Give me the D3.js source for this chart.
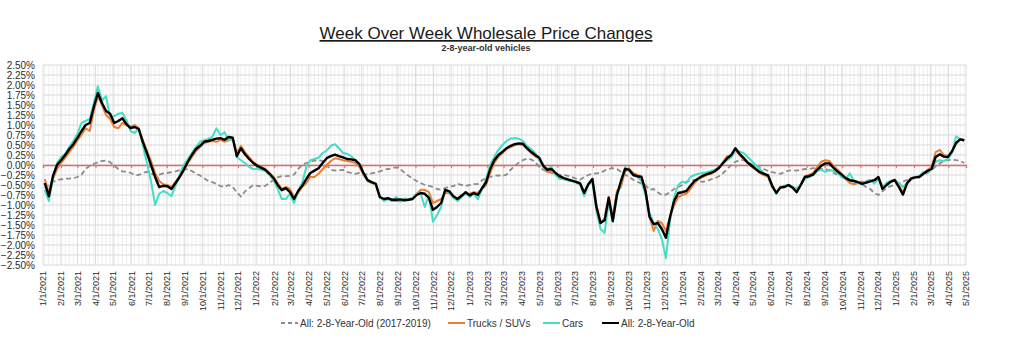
<!DOCTYPE html>
<html>
<head>
<meta charset="utf-8">
<script src="https://cdn.jsdelivr.net/npm/d3@7"></script>
<style>
  body { margin: 0; background: #fff; }
  svg text { font-family: "Liberation Sans", Arial, sans-serif; }
</style>
</head>
<body>
<div id="chart"></div>
<script>
const width = 1024;
const height = 343;

// weekly readings, first week starting 2021-01-04
const firstWeek = new Date(2021, 0, 4);

const allSeries = [
  -0.45,-0.78,-0.28,0.0,0.12,0.25,0.4,0.52,0.68,0.85,1.0,1.05,1.45,1.8,1.55,1.35,1.28,1.05,1.1,1.17,
  1.02,0.92,0.95,0.9,0.58,0.3,0.0,-0.3,-0.55,-0.52,-0.53,-0.6,-0.45,-0.3,-0.12,0.08,0.25,0.4,0.48,0.58,
  0.6,0.63,0.66,0.67,0.63,0.7,0.68,0.22,0.42,0.27,0.15,0.05,-0.02,-0.07,-0.12,-0.22,-0.33,-0.5,-0.63,-0.58,
  -0.68,-0.85,-0.65,-0.52,-0.35,-0.2,-0.14,-0.08,0.05,0.17,0.22,0.26,0.22,0.19,0.15,0.14,0.12,0.02,-0.2,-0.38,
  -0.43,-0.47,-0.8,-0.85,-0.83,-0.87,-0.87,-0.86,-0.88,-0.87,-0.85,-0.75,-0.7,-0.72,-0.82,-1.12,-1.05,-0.95,-0.62,-0.66,
  -0.78,-0.85,-0.77,-0.68,-0.76,-0.7,-0.75,-0.58,-0.43,-0.1,0.12,0.25,0.33,0.42,0.48,0.52,0.54,0.53,0.42,0.33,
  0.25,0.18,-0.02,-0.12,-0.1,-0.2,-0.28,-0.33,-0.36,-0.39,-0.42,-0.46,-0.7,-0.48,-0.35,-1.05,-1.45,-1.38,-0.82,-1.4,
  -0.75,-0.4,-0.1,-0.12,-0.25,-0.28,-0.3,-0.65,-1.3,-1.48,-1.45,-1.6,-1.82,-1.3,-0.9,-0.7,-0.68,-0.65,-0.52,-0.4,
  -0.33,-0.27,-0.23,-0.2,-0.15,-0.07,0.05,0.17,0.25,0.42,0.28,0.18,0.06,-0.02,-0.1,-0.18,-0.22,-0.26,-0.52,-0.7,
  -0.56,-0.55,-0.5,-0.57,-0.68,-0.5,-0.3,-0.28,-0.24,-0.12,-0.02,0.04,0.04,-0.07,-0.16,-0.24,-0.33,-0.38,-0.4,-0.43,
  -0.47,-0.44,-0.41,-0.38,-0.3,-0.6,-0.5,-0.42,-0.38,-0.55,-0.74,-0.46,-0.34,-0.31,-0.3,-0.22,-0.15,-0.1,0.2,0.27,
  0.21,0.2,0.34,0.55,0.64,0.62
];

const carsSeries = [
  -0.62,-0.9,-0.35,0.05,0.2,0.28,0.45,0.6,0.78,1.05,1.1,1.15,1.55,1.97,1.62,1.72,1.2,1.22,1.28,1.3,
  1.12,0.85,0.8,0.92,0.5,0.05,-0.4,-1.0,-0.72,-0.65,-0.7,-0.78,-0.52,-0.25,0.0,0.15,0.3,0.45,0.58,0.62,
  0.65,0.7,0.92,0.75,0.82,0.62,0.66,0.2,0.12,0.05,-0.05,-0.1,-0.1,-0.12,-0.15,-0.25,-0.38,-0.6,-0.85,-0.85,
  -0.72,-0.95,-0.65,-0.45,-0.05,0.12,0.15,0.18,0.3,0.36,0.48,0.52,0.42,0.3,0.28,0.22,0.12,0.0,-0.2,-0.4,
  -0.42,-0.5,-0.8,-0.9,-0.85,-0.9,-0.8,-0.92,-0.84,-0.86,-0.82,-0.72,-0.72,-1.05,-0.75,-1.42,-1.25,-1.05,-0.62,-0.7,
  -0.82,-0.9,-0.8,-0.7,-0.8,-0.72,-0.86,-0.6,-0.35,0.0,0.2,0.38,0.5,0.6,0.66,0.67,0.66,0.6,0.48,0.4,
  0.3,0.12,-0.05,-0.1,-0.05,-0.25,-0.35,-0.35,-0.38,-0.4,-0.44,-0.5,-0.78,-0.5,-0.4,-1.15,-1.6,-1.7,-0.9,-1.42,
  -0.8,-0.45,-0.05,-0.15,-0.25,-0.3,-0.4,-0.75,-1.2,-1.45,-1.6,-1.85,-2.33,-1.4,-0.8,-0.5,-0.42,-0.45,-0.3,-0.25,
  -0.22,-0.2,-0.18,-0.15,-0.12,-0.05,0.05,0.12,0.2,0.35,0.33,0.3,0.2,0.1,0.0,-0.1,-0.2,-0.28,-0.5,-0.72,
  -0.55,-0.52,-0.5,-0.55,-0.58,-0.5,-0.35,-0.3,-0.25,-0.15,-0.12,-0.17,-0.12,-0.15,-0.2,-0.3,-0.35,-0.21,-0.4,-0.45,
  -0.48,-0.4,-0.37,-0.46,-0.35,-0.55,-0.45,-0.4,-0.38,-0.45,-0.55,-0.45,-0.35,-0.3,-0.28,-0.17,-0.2,-0.05,0.08,0.12,
  0.1,0.15,0.3,0.72,0.65,0.6
];

const trucksSeries = [
  -0.35,-0.7,-0.35,-0.1,0.05,0.18,0.32,0.45,0.62,0.75,0.92,0.85,1.35,1.72,1.5,1.25,1.15,0.95,0.92,1.05,
  1.0,0.95,1.0,0.92,0.62,0.35,0.1,-0.2,-0.4,-0.48,-0.5,-0.55,-0.42,-0.3,-0.15,0.05,0.2,0.35,0.45,0.55,
  0.58,0.6,0.58,0.63,0.58,0.62,0.65,0.3,0.48,0.32,0.2,0.08,0.0,-0.05,-0.1,-0.2,-0.3,-0.45,-0.6,-0.55,
  -0.6,-0.8,-0.7,-0.55,-0.45,-0.3,-0.3,-0.22,-0.1,0.0,0.1,0.17,0.15,0.12,0.1,0.08,0.05,-0.05,-0.25,-0.4,
  -0.45,-0.48,-0.82,-0.85,-0.85,-0.9,-0.9,-0.9,-0.88,-0.86,-0.85,-0.72,-0.62,-0.62,-0.68,-0.95,-0.9,-0.85,-0.7,-0.7,
  -0.8,-0.85,-0.75,-0.72,-0.72,-0.68,-0.7,-0.6,-0.5,-0.2,0.05,0.2,0.3,0.4,0.45,0.5,0.52,0.5,0.4,0.3,
  0.22,0.15,-0.05,-0.18,-0.15,-0.22,-0.3,-0.35,-0.38,-0.4,-0.42,-0.45,-0.68,-0.5,-0.35,-1.0,-1.42,-1.35,-0.8,-1.3,
  -0.65,-0.55,-0.15,-0.1,-0.2,-0.25,-0.28,-0.6,-1.3,-1.65,-1.4,-1.45,-1.65,-1.3,-1.0,-0.8,-0.75,-0.72,-0.6,-0.45,
  -0.35,-0.3,-0.25,-0.22,-0.17,-0.08,0.08,0.22,0.2,0.38,0.25,0.15,0.05,-0.05,-0.12,-0.2,-0.25,-0.3,-0.55,-0.68,
  -0.58,-0.55,-0.5,-0.55,-0.65,-0.48,-0.28,-0.25,-0.2,-0.05,0.08,0.12,0.1,-0.02,-0.12,-0.22,-0.35,-0.45,-0.48,-0.45,
  -0.42,-0.45,-0.4,-0.38,-0.32,-0.55,-0.48,-0.4,-0.36,-0.5,-0.7,-0.45,-0.33,-0.3,-0.28,-0.2,-0.12,-0.05,0.32,0.38,
  0.25,0.22,0.35,0.55,0.65,0.62
];

// same weeks, 2017-2019 average
const baselineSeries = [
  -0.58,-0.5,-0.42,-0.38,-0.36,-0.34,-0.34,-0.33,-0.3,-0.24,-0.1,-0.02,0.03,0.07,0.1,0.11,0.07,-0.02,-0.1,-0.16,
  -0.17,-0.2,-0.24,-0.25,-0.2,-0.17,-0.22,-0.25,-0.24,-0.21,-0.2,-0.18,-0.16,-0.13,-0.1,-0.11,-0.15,-0.22,-0.26,-0.33,
  -0.4,-0.43,-0.47,-0.53,-0.55,-0.5,-0.55,-0.68,-0.79,-0.66,-0.58,-0.5,-0.52,-0.54,-0.52,-0.45,-0.37,-0.31,-0.28,-0.28,
  -0.27,-0.24,-0.1,0.0,0.05,0.08,0.11,0.12,0.1,0.0,-0.12,-0.14,-0.13,-0.12,-0.17,-0.2,-0.22,-0.2,-0.24,-0.23,
  -0.21,-0.19,-0.16,-0.12,-0.1,-0.08,-0.06,-0.1,-0.19,-0.27,-0.34,-0.4,-0.45,-0.5,-0.52,-0.55,-0.6,-0.62,-0.58,-0.54,
  -0.53,-0.47,-0.5,-0.52,-0.5,-0.48,-0.47,-0.38,-0.33,-0.3,-0.27,-0.26,-0.27,-0.24,-0.12,-0.02,0.06,0.12,0.16,0.14,
  0.08,-0.05,-0.12,-0.17,-0.2,-0.23,-0.25,-0.25,-0.27,-0.3,-0.34,-0.37,-0.3,-0.25,-0.22,-0.21,-0.2,-0.14,-0.1,-0.08,
  -0.1,-0.17,-0.24,-0.3,-0.37,-0.42,-0.46,-0.5,-0.62,-0.6,-0.68,-0.75,-0.74,-0.68,-0.6,-0.55,-0.5,-0.42,-0.38,-0.38,
  -0.4,-0.42,-0.4,-0.36,-0.33,-0.28,-0.2,-0.1,0.0,0.08,0.12,0.12,0.08,0.02,-0.02,-0.06,-0.1,-0.15,-0.18,-0.2,
  -0.22,-0.18,-0.14,-0.13,-0.14,-0.12,-0.1,-0.1,-0.08,-0.08,-0.1,-0.1,-0.14,-0.2,-0.24,-0.3,-0.35,-0.38,-0.42,-0.45,
  -0.48,-0.55,-0.6,-0.7,-0.75,-0.66,-0.57,-0.53,-0.5,-0.47,-0.42,-0.37,-0.33,-0.29,-0.27,-0.25,-0.2,-0.12,-0.04,0.04,
  0.1,0.12,0.13,0.12,0.1,0.05
];

const yTicks = [2.5,2.25,2,1.75,1.5,1.25,1,0.75,0.5,0.25,0,-0.25,-0.5,-0.75,-1,-1.25,-1.5,-1.75,-2,-2.25,-2.5];

const seriesNames = ["All: 2-8-Year-Old (2017-2019)", "Trucks / SUVs", "Cars", "All: 2-8-Year-Old"];
const seriesColors = ["#8c8c8c", "#ed7d31", "#47dcc4", "#000000"];
const seriesWidths = [1.8, 2, 2, 2.4];

const margin = {top: 65, right: 58, bottom: 78, left: 43};

const svg = d3.select("#chart")
  .append("svg")
  .attr("width", width)
  .attr("height", height);

const x = d3.scaleTime()
  .domain([new Date(2021, 0, 1), new Date(2025, 4, 1)])
  .range([margin.left, width - margin.right]);

const y = d3.scaleLinear()
  .domain([-2.5, 2.5])
  .range([height - margin.bottom, margin.top]);

const weeks = allSeries.map((d, i) => d3.timeDay.offset(firstWeek, 7 * i));

// title
svg.append("text")
  .attr("x", 486)
  .attr("y", 39)
  .attr("text-anchor", "middle")
  .style("font-size", "17px")
  .style("text-decoration", "underline")
  .attr("fill", "#1a1a1a")
  .text("Week Over Week Wholesale Price Changes");

svg.append("text")
  .attr("x", 486)
  .attr("y", 51)
  .attr("text-anchor", "middle")
  .style("font-size", "9px")
  .style("font-weight", "bold")
  .attr("fill", "#333")
  .text("2-8-year-old vehicles");

// grid: weekly minor lines, monthly major lines, horizontal every 0.25%
const grid = svg.append("g");

grid.selectAll("line.minor")
  .data(d3.timeMonday.range(x.domain()[0], x.domain()[1]))
  .enter()
  .append("line")
  .attr("x1", d => x(d)).attr("x2", d => x(d))
  .attr("y1", y(2.5)).attr("y2", y(-2.5))
  .attr("stroke", "#efefef")
  .attr("stroke-width", 1);

grid.selectAll("line.major")
  .data(x.ticks(d3.timeMonth.every(1)))
  .enter()
  .append("line")
  .attr("x1", d => x(d)).attr("x2", d => x(d))
  .attr("y1", y(2.5)).attr("y2", y(-2.5))
  .attr("stroke", "#dcdcdc")
  .attr("stroke-width", 1);

grid.selectAll("line.h")
  .data(yTicks)
  .enter()
  .append("line")
  .attr("x1", x.range()[0]).attr("x2", x.range()[1])
  .attr("y1", d => y(d)).attr("y2", d => y(d))
  .attr("stroke", "#d9d9d9")
  .attr("stroke-width", 1);

// y axis labels
svg.append("g")
  .attr("transform", "translate(" + margin.left + ",0)")
  .call(d3.axisLeft(y).tickValues(yTicks).tickSize(0).tickPadding(8)
    .tickFormat(d => d3.format(".2f")(d) + "%"))
  .call(g => g.select(".domain").remove())
  .call(g => g.selectAll("text")
    .style("font-size", "10px")
    .attr("fill", "#2b2b2b"));

// zero line with month ticks
svg.append("g")
  .attr("transform", "translate(0," + y(0) + ")")
  .call(d3.axisBottom(x).ticks(d3.timeMonth.every(1)).tickSize(3).tickFormat(""))
  .call(g => g.select(".domain").attr("stroke", "#e46a68").attr("stroke-width", 1.3))
  .call(g => g.selectAll(".tick line").attr("stroke", "#e46a68"));

// month labels under the plot
svg.append("g")
  .attr("transform", "translate(0," + (y(-2.5) + 5) + ")")
  .call(d3.axisBottom(x).ticks(d3.timeMonth.every(1)).tickSize(0)
    .tickFormat(d3.timeFormat("%-m/%-d/%Y")))
  .call(g => g.select(".domain").remove())
  .call(g => g.selectAll("text")
    .attr("transform", "rotate(-90)")
    .attr("text-anchor", "end")
    .attr("x", 0)
    .attr("y", 0)
    .attr("dx", "-0.1em")
    .attr("dy", "0.32em")
    .style("font-size", "9px")
    .attr("fill", "#2b2b2b"));

// series lines
const line = d3.line()
  .x((d, i) => x(weeks[i]))
  .y(d => y(d));

const seriesData = [baselineSeries, trucksSeries, carsSeries, allSeries];

svg.append("g")
  .selectAll("path")
  .data(seriesData)
  .enter()
  .append("path")
  .attr("d", d => line(d))
  .attr("fill", "none")
  .attr("stroke", (d, i) => seriesColors[i])
  .attr("stroke-width", (d, i) => seriesWidths[i])
  .attr("stroke-dasharray", (d, i) => i === 0 ? "5,3" : null)
  .attr("stroke-linejoin", "round");

// legend
const legendX = [281, 448, 543, 602];
const legend = svg.append("g")
  .attr("transform", "translate(0,323)");

const items = legend.selectAll("g")
  .data(seriesNames)
  .enter()
  .append("g")
  .attr("transform", (d, i) => "translate(" + legendX[i] + ",0)");

items.append("line")
  .attr("x1", 0).attr("x2", 17)
  .attr("y1", 0).attr("y2", 0)
  .attr("stroke", (d, i) => seriesColors[i])
  .attr("stroke-width", 2)
  .attr("stroke-dasharray", (d, i) => i === 0 ? "4,3" : null);

items.append("text")
  .attr("x", 19)
  .attr("y", 0)
  .attr("dy", "0.35em")
  .style("font-size", "10px")
  .attr("fill", "#333")
  .text(d => d);
</script>
</body>
</html>
